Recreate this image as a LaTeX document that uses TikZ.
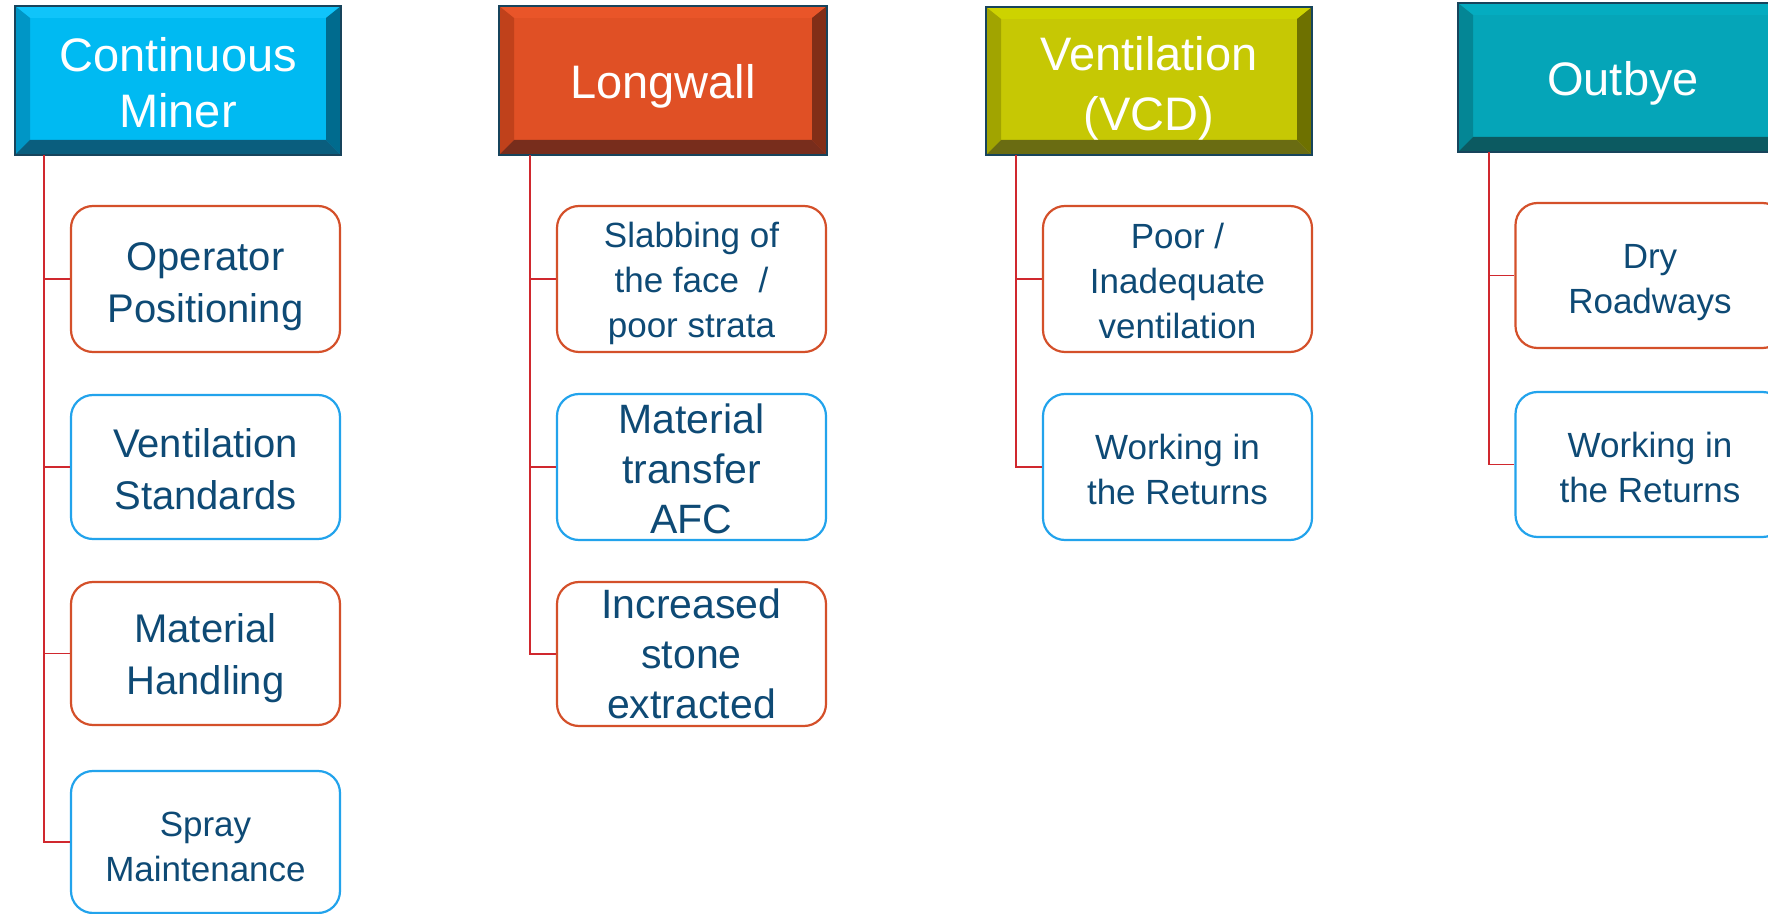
\documentclass[tikz,border=0pt]{standalone}
\usepackage{fontspec}
\setmainfont{Liberation Sans}
\definecolor{txt}{HTML}{0E4A75}
\definecolor{redb}{HTML}{D4502A}
\definecolor{blueb}{HTML}{22A3EC}
\definecolor{connc}{HTML}{D0282E}
\definecolor{hline}{HTML}{17445C}
\definecolor{cmF}{HTML}{00BAF2}\definecolor{cmT}{HTML}{10C4FA}\definecolor{cmL}{HTML}{0096C6}\definecolor{cmR}{HTML}{006B8E}\definecolor{cmB}{HTML}{0A5E7E}
\definecolor{lwF}{HTML}{E05025}\definecolor{lwT}{HTML}{E95529}\definecolor{lwL}{HTML}{C0411B}\definecolor{lwR}{HTML}{822E17}\definecolor{lwB}{HTML}{782D1C}
\definecolor{vtF}{HTML}{C6C804}\definecolor{vtT}{HTML}{CDD300}\definecolor{vtL}{HTML}{A1A400}\definecolor{vtR}{HTML}{6E7100}\definecolor{vtB}{HTML}{6A6C12}
\definecolor{obF}{HTML}{05A5B8}\definecolor{obT}{HTML}{04ACC0}\definecolor{obL}{HTML}{048695}\definecolor{obR}{HTML}{045F6B}\definecolor{obB}{HTML}{0C5A61}
\newcommand\fhdr{\fontsize{23.5}{30}\selectfont}
\newcommand\fhdrb{\fontsize{23.5}{28}\selectfont}
\newcommand\fbig{\fontsize{20}{26}\selectfont}
\newcommand\fmid{\fontsize{20.5}{25}\selectfont}
\newcommand\fsml{\fontsize{17.5}{22.5}\selectfont}
\newcommand\tstrut[1]{\rule{0pt}{#1}}
\tikzset{
  hdr/.style n args={5}{draw=hline, line width=1pt, fill=#1, inner sep=0pt,
    text=white, align=center, font=\fhdr,
    path picture={
      \path (path picture bounding box.north west) coordinate (pnw)
            (path picture bounding box.north east) coordinate (pne)
            (path picture bounding box.south west) coordinate (psw)
            (path picture bounding box.south east) coordinate (pse);
      \path ([shift={(7.5pt,-6pt)}]pnw) coordinate (inw)
            ([shift={(-7.5pt,-6pt)}]pne) coordinate (ine)
            ([shift={(7.5pt,7.5pt)}]psw) coordinate (isw)
            ([shift={(-7.5pt,7.5pt)}]pse) coordinate (ise);
      \fill[#2] (pnw) -- (pne) -- (ine) -- (inw) -- cycle;
      \fill[#3] (pnw) -- (inw) -- (isw) -- (psw) -- cycle;
      \fill[#4] (pne) -- (pse) -- (ise) -- (ine) -- cycle;
      \fill[#5] (psw) -- (pse) -- (ise) -- (isw) -- cycle;
    }},
  kid/.style={draw=#1, line width=1.1pt, rounded corners=11pt, fill=white,
    minimum width=134.5pt, inner sep=0pt, align=center, text=txt},
  conn/.style={draw=connc, line width=0.8pt},
}
\begin{document}
\begin{tikzpicture}[x=0.5pt, y=-0.5pt]
\clip (0,0) rectangle (1768,914);
\fill[white] (0,0) rectangle (1768,914);

% headers
\node[hdr={cmF}{cmT}{cmL}{cmR}{cmB}, font=\fhdrb, minimum width=163pt, minimum height=74.5pt] (h1) at (178,80.5) {\tstrut{19.6pt}Continuous\\Miner};
\node[hdr={lwF}{lwT}{lwL}{lwR}{lwB}, minimum width=164pt, minimum height=74.5pt] (h2) at (663,80.5) {\tstrut{22.8pt}Longwall};
\node[hdr={vtF}{vtT}{vtL}{vtR}{vtB}, minimum width=163pt, minimum height=74pt] (h3) at (1149,81) {\tstrut{24pt}Ventilation\\(VCD)};
\node[hdr={obF}{obT}{obL}{obR}{obB}, minimum width=165pt, minimum height=74.5pt] (h4) at (1623,77.5) {\tstrut{23pt}Outbye};

% Continuous Miner children
\node[kid=redb, minimum height=73pt, font=\fbig] (c11) at (205.5,279) {\tstrut{21.6pt}Operator\\Positioning};
\node[kid=blueb, minimum height=72pt, font=\fbig] (c12) at (205.5,467) {\tstrut{17pt}Ventilation\\Standards};
\node[kid=redb, minimum height=71.5pt, font=\fbig] (c13) at (205.5,653.5) {\tstrut{19pt}Material\\Handling};
\node[kid=blueb, minimum height=71pt, font=\fsml] (c14) at (205.5,842) {\tstrut{17.2pt}Spray\\Maintenance};

% Longwall children
\node[kid=redb, minimum height=73pt, font=\fsml] (c21) at (691.5,279) {\tstrut{17.2pt}Slabbing of\\the face~~/\\poor strata};
\node[kid=blueb, minimum height=73pt, font=\fmid] (c22) at (691.5,467) {\tstrut{17pt}Material\\transfer\\AFC};
\node[kid=redb, minimum height=72pt, font=\fmid] (c23) at (691.5,654) {Increased\\stone\\extracted};

% Ventilation children
\node[kid=redb, minimum height=73pt, font=\fsml] (c31) at (1177.5,279) {\tstrut{14.5pt}Poor /\\Inadequate\\ventilation};
\node[kid=blueb, minimum height=73pt, font=\fsml] (c32) at (1177.5,467) {\tstrut{15pt}Working in\\the Returns};

% Outbye children
\node[kid=redb, minimum height=72.5pt, font=\fsml] (c41) at (1650,275.5) {\tstrut{19pt}Dry\\Roadways};
\node[kid=blueb, minimum height=72.5pt, font=\fsml] (c42) at (1650,464.5) {\tstrut{15.2pt}Working in\\the Returns};

% connectors
\coordinate (t1) at (44,155);
\coordinate (t2) at (530,155);
\coordinate (t3) at (1016,155);
\coordinate (t4) at (1489,152);

\draw[conn] (t1) |- (c14.west);
\draw[conn] (t1 |- c11.west) -- (c11.west);
\draw[conn] (t1 |- c12.west) -- (c12.west);
\draw[conn] (t1 |- c13.west) -- (c13.west);

\draw[conn] (t2) |- (c23.west);
\draw[conn] (t2 |- c21.west) -- (c21.west);
\draw[conn] (t2 |- c22.west) -- (c22.west);

\draw[conn] (t3) |- (c32.west);
\draw[conn] (t3 |- c31.west) -- (c31.west);

\draw[conn] (t4) |- (c42.west);
\draw[conn] (t4 |- c41.west) -- (c41.west);
\end{tikzpicture}
\end{document}
